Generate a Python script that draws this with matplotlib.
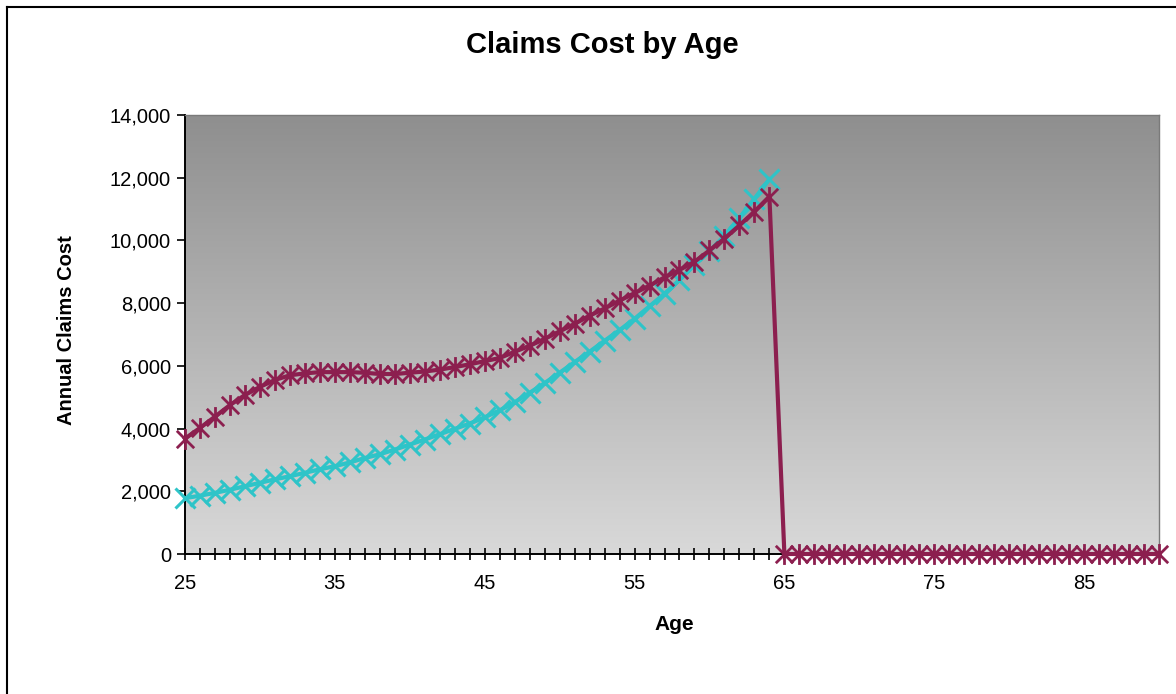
import numpy as np
import matplotlib
matplotlib.use("Agg")
import matplotlib.pyplot as plt
from matplotlib.path import Path
from matplotlib.lines import Line2D
from matplotlib.ticker import FuncFormatter

plt.rcParams['font.family'] = ['Liberation Sans', 'DejaVu Sans']

# ---- data ----
ages = list(range(25, 91))
tick_labels = ["25", "35", "45", "55", "65", "75", "85"]
series_a = [3680, 4020, 4380, 4750, 5070, 5330, 5550, 5700, 5760, 5800,
            5800, 5800, 5780, 5740, 5740, 5780, 5820, 5880, 5960, 6050,
            6150, 6250, 6450, 6640, 6860, 7100, 7340, 7600, 7830, 8080,
            8320, 8560, 8820, 9060, 9320, 9680, 10060, 10480, 10920, 11400] + [0] * 26
series_b = [1780, 1860, 1950, 2050, 2160, 2270, 2380, 2480, 2590, 2700,
            2800, 2920, 3060, 3180, 3330, 3490, 3650, 3820, 3990, 4160,
            4360, 4580, 4840, 5140, 5450, 5780, 6120, 6450, 6800, 7140,
            7500, 7900, 8300, 8740, 9220, 9660, 10150, 10720, 11330, 11950]
ages_b = ages[:len(series_b)]
yticks = list(range(0, 14001, 2000))

W, H = 1176, 694
fig = plt.figure(figsize=(W / 100, H / 100), dpi=100)
fig.patch.set_facecolor("white")

L, R, T, B = 185, 1159, 115, 554
ax = fig.add_axes([L / W, 1 - B / H, (R - L) / W, (B - T) / H])

# gradient background
grad = np.linspace(0, 1, 256)
top_c = np.array([0.56, 0.56, 0.56])
bot_c = np.array([0.85, 0.85, 0.85])
img = top_c[None, :] * (1 - grad)[:, None] + bot_c[None, :] * grad[:, None]
img = img[:, None, :]
ax.imshow(img, extent=[0, 1, 0, 1], transform=ax.transAxes, aspect="auto",
          zorder=0, interpolation="bilinear")

# star marker (x with vertical line)
star = Path([(-1, -1), (1, 1), (-1, 1), (1, -1), (0, -1.2), (0, 1.2)],
            [Path.MOVETO, Path.LINETO, Path.MOVETO, Path.LINETO, Path.MOVETO, Path.LINETO])

cyan = "#2ec4c8"
maroon = "#8c1f4f"
ax.plot(ages_b, series_b, color=cyan, lw=3, marker="x", ms=15, mew=2.2,
        zorder=3, clip_on=False)
ax.plot(ages, series_a, color=maroon, lw=3, marker=star, ms=15, mew=2.0,
        zorder=4, clip_on=False)

ax.set_xlim(25, 90)
ax.set_ylim(0, 14000)
ax.set_xticks(ages[:-1])
ax.set_xticklabels([str(a) if str(a) in tick_labels else "" for a in ages[:-1]])
ax.set_yticks(yticks)
ax.yaxis.set_major_formatter(FuncFormatter(lambda v, p: f"{int(v):,}"))
ax.tick_params(axis="x", direction="inout", length=9, width=1.2, labelsize=14.5, pad=10)
ax.tick_params(axis="y", direction="out", length=6, width=1.2, labelsize=14.5, pad=4)

for s in ["left", "bottom"]:
    ax.spines[s].set_color("black")
    ax.spines[s].set_linewidth(1.4)
for s in ["top", "right"]:
    ax.spines[s].set_color("#7a7a7a")
    ax.spines[s].set_linewidth(1.0)

fig.text(602 / W, 1 - 45 / H, "Claims Cost by Age", ha="center", va="center",
         fontsize=21, fontweight="bold")
fig.text(674 / W, 1 - 625 / H, "Age", ha="center", va="center",
         fontsize=15, fontweight="bold")
fig.text(67 / W, 1 - 330 / H, "Annual Claims Cost", ha="center", va="center",
         rotation=90, fontsize=14.5, fontweight="bold")

# outer frame lines
fig.add_artist(Line2D([7 / W, 7 / W], [0, 1 - 7 / H], color="black", lw=1.5))
fig.add_artist(Line2D([7 / W, 1], [1 - 7 / H, 1 - 7 / H], color="black", lw=1.5))

fig.savefig("out.png", dpi=100)
